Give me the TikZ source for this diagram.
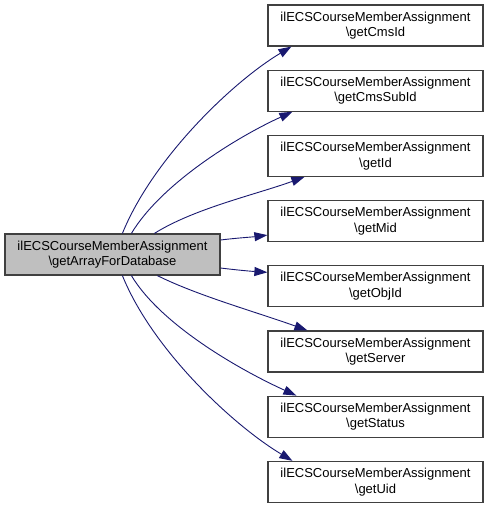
\documentclass[tikz,border=0pt]{standalone}
\usepackage{fontspec}
\setmainfont{Liberation Sans}
\usetikzlibrary{arrows.meta}
\definecolor{edgecol}{HTML}{191970}
\definecolor{boxline}{HTML}{404040}
\definecolor{boxfill}{HTML}{BFBFBF}
\tikzset{
  fn/.style={draw=boxline, line width=1.2pt, fill=white, minimum width=215pt, minimum height=41pt,
    inner sep=0pt, align=center, font=\fontsize{13}{15.5}\selectfont},
  cur/.style={fn, fill=boxfill},
  edge/.style={draw=edgecol, line width=0.9pt, -{Triangle[length=13pt,width=9pt]}},
}
\begin{document}
\begin{tikzpicture}[x=1pt,y=-1pt]
\useasboundingbox (0,0) rectangle (488,509);
\node[cur] (L) at (112.5,254.5) {ilECSCourseMemberAssignment\\\textbackslash getArrayForDatabase};
\node[fn] (R1) at (375.5,25.5) {ilECSCourseMemberAssignment\\\textbackslash getCmsId};
\node[fn] (R2) at (375.5,90.7) {ilECSCourseMemberAssignment\\\textbackslash getCmsSubId};
\node[fn] (R3) at (375.5,155.9) {ilECSCourseMemberAssignment\\\textbackslash getId};
\node[fn] (R4) at (375.5,221.1) {ilECSCourseMemberAssignment\\\textbackslash getMid};
\node[fn] (R5) at (375.5,286.3) {ilECSCourseMemberAssignment\\\textbackslash getObjId};
\node[fn] (R6) at (375.5,351.5) {ilECSCourseMemberAssignment\\\textbackslash getServer};
\node[fn] (R7) at (375.5,416.7) {ilECSCourseMemberAssignment\\\textbackslash getStatus};
\node[fn] (R8) at (375.5,481.9) {ilECSCourseMemberAssignment\\\textbackslash getUid};

\draw[edge] ([xshift=118pt]L.north west) .. controls +(30,-74) and +(-60,36) .. ([xshift=24pt]R1.south west);
\draw[edge] ([xshift=127pt]L.north west) .. controls +(30,-50) and +(-55,25) .. ([xshift=25pt]R2.south west);
\draw[edge] ([xshift=150pt]L.north west) .. controls +(40,-25) and +(-50,18) .. ([xshift=37pt]R3.south west);
\draw[edge] ([yshift=14.5pt]L.east) .. controls +(16,-2) and +(-16,2) .. ([yshift=-14pt]R4.west);
\draw[edge] ([yshift=-13.5pt]L.east) .. controls +(16,2) and +(-16,-1) .. ([yshift=14pt]R5.west);
\draw[edge] ([xshift=153pt]L.south west) .. controls +(40,20) and +(-50,-18) .. ([xshift=40pt]R6.north west);
\draw[edge] ([xshift=127pt]L.south west) .. controls +(30,50) and +(-55,-25) .. ([xshift=29pt]R7.north west);
\draw[edge] ([xshift=118pt]L.south west) .. controls +(30,74) and +(-60,-36) .. ([xshift=25pt]R8.north west);
\end{tikzpicture}
\end{document}
